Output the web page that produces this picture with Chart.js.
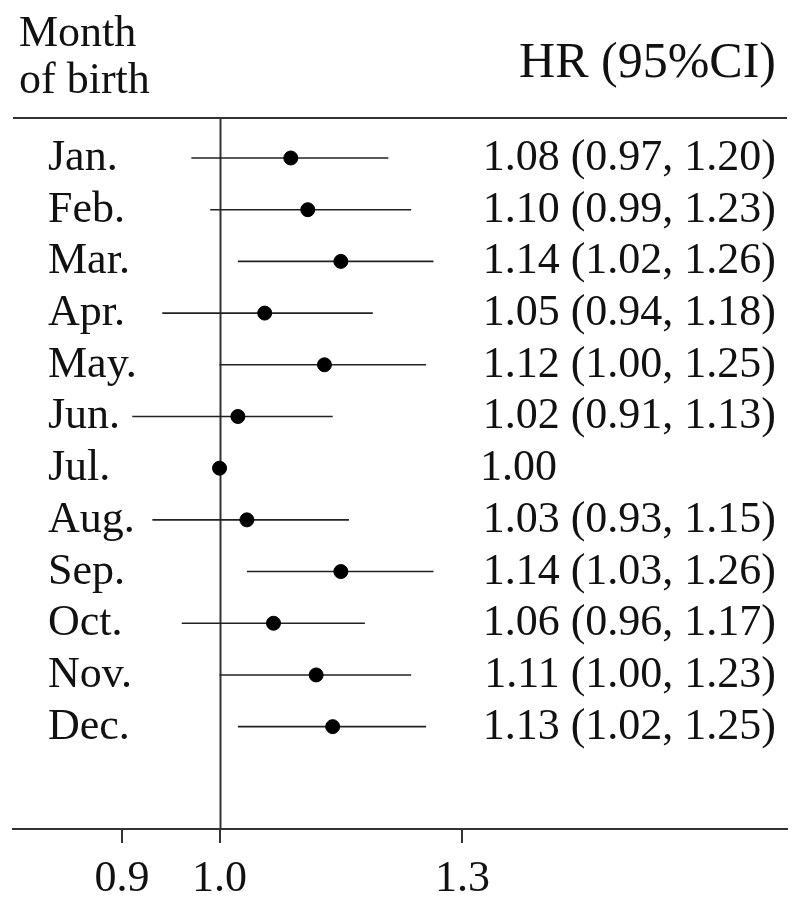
<!DOCTYPE html>
<html>
<head>
<meta charset="utf-8">
<script src="https://cdn.jsdelivr.net/npm/chart.js@4.4.1/dist/chart.umd.min.js"></script>
<style>
  html, body { margin: 0; padding: 0; background: #fff; }
  #wrap { width: 800px; height: 910px; position: relative; }
</style>
</head>
<body>
<div id="wrap"><canvas id="c" width="800" height="910"></canvas></div>
<script>
// ---- data ----
const months = ['Jan.','Feb.','Mar.','Apr.','May.','Jun.','Jul.','Aug.','Sep.','Oct.','Nov.','Dec.'];
const hr     = [1.08, 1.10, 1.14, 1.05, 1.12, 1.02, 1.00, 1.03, 1.14, 1.06, 1.11, 1.13];
const lower  = [0.97, 0.99, 1.02, 0.94, 1.00, 0.91, null, 0.93, 1.03, 0.96, 1.00, 1.02];
const upper  = [1.20, 1.23, 1.26, 1.18, 1.25, 1.13, null, 1.15, 1.26, 1.17, 1.23, 1.25];
const xTicks = [0.9, 1.0, 1.3];
const refValue = 1.0;
const headerLeft = ['Month', 'of birth'];
const headerRight = 'HR (95%CI)';

const FONT = '"Liberation Serif", "Times New Roman", serif';
const FS = 44;
const FS_HR = 50;
const INK = '#111';
const LINE = '#333';

const rows = months.map((m, i) => i + 1);
const hrText = hr.map((v, i) => lower[i] == null
  ? v.toFixed(2)
  : v.toFixed(2) + ' (' + lower[i].toFixed(2) + ', ' + upper[i].toFixed(2) + ')');

const ciDatasets = [];
rows.forEach((r, i) => {
  if (lower[i] == null) return;
  ciDatasets.push({
    type: 'line',
    data: [{x: lower[i], y: r}, {x: upper[i], y: r}],
    borderColor: '#222',
    borderWidth: 1.6,
    pointRadius: 0,
    fill: false,
    order: 2
  });
});

const decor = {
  id: 'decor',
  beforeDatasetsDraw(chart) {
    const {ctx, chartArea, scales} = chart;
    ctx.save();
    ctx.strokeStyle = LINE;
    ctx.lineWidth = 2;
    ctx.beginPath();
    ctx.moveTo(chartArea.left, chartArea.top);
    ctx.lineTo(chartArea.right, chartArea.top);
    const xr = Math.round(scales.x.getPixelForValue(refValue)) + 0.5;
    ctx.moveTo(xr, chartArea.top);
    ctx.lineTo(xr, chartArea.bottom);
    ctx.stroke();
    ctx.restore();
  },
  afterDraw(chart) {
    const {ctx, scales} = chart;
    ctx.save();
    ctx.fillStyle = INK;
    ctx.textBaseline = 'alphabetic';
    // headers
    ctx.font = FS + 'px ' + FONT;
    ctx.textAlign = 'left';
    ctx.fillText(headerLeft[0], 19, 46);
    ctx.fillText(headerLeft[1], 19, 93);
    ctx.font = FS_HR + 'px ' + FONT;
    ctx.textAlign = 'right';
    ctx.fillText(headerRight, 776, 77);
    // rows
    ctx.font = FS + 'px ' + FONT;
    rows.forEach((r, i) => {
      const y = scales.y.getPixelForValue(r) + 12;
      ctx.textAlign = 'left';
      ctx.fillText(months[i], 48, y);
      ctx.textAlign = i === 6 ? 'left' : 'right';
      ctx.fillText(hrText[i], i === 6 ? 480 : 776, y);
    });
    ctx.restore();
  }
};

new Chart(document.getElementById('c'), {
  type: 'scatter',
  data: {
    datasets: [
      {
        type: 'scatter',
        data: rows.map((r, i) => ({x: hr[i], y: r})),
        backgroundColor: '#000',
        borderColor: '#000',
        pointRadius: 7,
        pointHoverRadius: 7,
        order: 0
      },
      ...ciDatasets
    ]
  },
  options: {
    responsive: false,
    animation: false,
    events: [],
    layout: { padding: { top: 118, left: 13, right: 13, bottom: 0 } },
    plugins: { legend: { display: false }, tooltip: { enabled: false } },
    scales: {
      x: {
        type: 'logarithmic',
        position: 'bottom',
        min: 0.8,
        max: 1.846,
        afterBuildTicks: s => { s.ticks = xTicks.map(v => ({value: v})); },
        afterFit: s => { s.height = 81; },
        ticks: {
          autoSkip: false,
          maxRotation: 0,
          minRotation: 0,
          padding: 10,
          color: INK,
          font: { family: FONT, size: FS },
          callback: v => Number(v).toFixed(1)
        },
        grid: { drawOnChartArea: false, drawTicks: true, tickLength: 14, color: LINE, lineWidth: 2 },
        border: { display: true, color: LINE, width: 2 }
      },
      y: {
        type: 'linear',
        display: false,
        reverse: true,
        min: 0.226,
        max: 13.98
      }
    }
  },
  plugins: [decor]
});
</script>
</body>
</html>
